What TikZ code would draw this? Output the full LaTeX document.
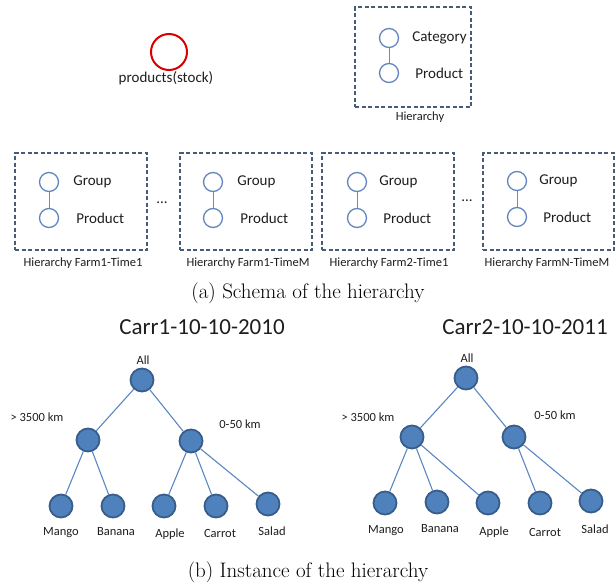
\documentclass[tikz,border=0pt]{standalone}
\usepackage{fontspec}
\usetikzlibrary{positioning}
\newfontfamily\calfont{Carlito}
\definecolor{nodefill}{RGB}{79,129,189}
\definecolor{nodeline}{RGB}{56,93,138}
\definecolor{edgeblue}{RGB}{90,135,195}
\definecolor{ringblue}{RGB}{95,135,190}
\definecolor{stemgray}{RGB}{120,140,170}
\definecolor{boxgray}{RGB}{70,92,120}
\definecolor{txt}{RGB}{30,30,30}
\tikzset{
  small/.style={font=\calfont\fontsize{12.5}{15}\selectfont, text=txt, inner sep=0pt},
  mid/.style={font=\calfont\fontsize{15}{18}\selectfont, text=txt, inner sep=0pt},
  title/.style={font=\calfont\fontsize{23}{27}\selectfont, text=txt, inner sep=0pt},
  capt/.style={font=\fontsize{21}{25}\selectfont, text=black, inner sep=0pt},
  leaf/.style={circle, draw=nodeline, fill=nodefill, line width=1.8pt, minimum size=23pt, inner sep=0pt},
  ring/.style={circle, draw=ringblue, fill=white, line width=1.3pt, minimum size=19pt, inner sep=0pt},
  hbox/.style={draw=boxgray, line width=1.3pt, dash pattern=on 4pt off 2.5pt, minimum height=97pt, inner sep=0pt},
  edge/.style={draw=edgeblue, line width=1.1pt},
  stem/.style={draw=stemgray, line width=1pt}
}
\begin{document}
\begin{tikzpicture}[x=1pt, y=-1pt]
    \useasboundingbox (0,0) rectangle (616,584);

    % 库存产品
    \node[circle, draw=red!85!black, line width=2pt, minimum size=36pt] (stock) at (169,52) {};
    \node[mid] (stocklbl) at (166,78) {products(stock)};

    % 通用层次
    \node[hbox, minimum width=116pt, minimum height=100pt] (hier) at (413,57) {};
    \node[ring] (hc) at (389,38) {};
    \node[ring] (hp) at (389,73) {};
    \draw[stem] (hc) -- (hp);
    \node[mid, anchor=west, right=13pt of hc] (hclbl) {Category};
    \node[mid, anchor=west, right=16pt of hp] (hplbl) {Product};
    \node[small] (hierlbl) at (420,117) {Hierarchy};

    % 各农场层次
    \node[hbox, minimum width=132pt] (box1) at (81,201.5) {};
    \node[hbox, minimum width=132pt] (box2) at (246,201.5) {};
    \node[hbox, minimum width=132pt] (box3) at (388,201.5) {};
    \node[hbox, minimum width=131pt] (box4) at (548.5,201.5) {};

    \node[ring] (g1) at (49,182) {};
    \node[ring] (p1) at (49,218) {};
    \node[ring] (g2) at (213,182) {};
    \node[ring] (p2) at (213,218) {};
    \node[ring] (g3) at (357,182) {};
    \node[ring] (p3) at (357,218) {};
    \node[ring] (g4) at (517,181) {};
    \node[ring] (p4) at (517,217) {};
    \draw[stem] (g1) -- (p1);
    \draw[stem] (g2) -- (p2);
    \draw[stem] (g3) -- (p3);
    \draw[stem] (g4) -- (p4);

    \node[mid, right=14pt of g1] (g1lbl) {Group};
    \node[mid, right=17pt of p1] (p1lbl) {Product};
    \node[mid, right=14pt of g2] (g2lbl) {Group};
    \node[mid, right=17pt of p2] (p2lbl) {Product};
    \node[mid, right=12pt of g3] (g3lbl) {Group};
    \node[mid, right=16pt of p3] (p3lbl) {Product};
    \node[mid, right=12pt of g4] (g4lbl) {Group};
    \node[mid, right=16pt of p4] (p4lbl) {Product};

    \node[mid] (dots1) at (162,203) {...};
    \node[mid] (dots2) at (467,201) {...};

    \node[small] (box1lbl) at (83,263) {Hierarchy Farm1-Time1};
    \node[small] (box2lbl) at (248,263) {Hierarchy Farm1-TimeM};
    \node[small] (box3lbl) at (389,263) {Hierarchy Farm2-Time1};
    \node[small] (box4lbl) at (547,263) {Hierarchy FarmN-TimeM};

    \node[capt] (capa) at (308,293) {(a) Schema of the hierarchy};

    % 第一棵实例树
    \node[title] (carr1) at (202,327) {Carr1-10-10-2010};
    \node[leaf] (t1r) at (142,380) {};
    \node[leaf] (t1a) at (88,440) {};
    \node[leaf] (t1b) at (191,441) {};
    \node[leaf] (t1m) at (61,506) {};
    \node[leaf] (t1n) at (113,506) {};
    \node[leaf] (t1p) at (164,506) {};
    \node[leaf] (t1c) at (216,506) {};
    \node[leaf] (t1s) at (268,504) {};

    \draw[edge] (t1r) -- (t1a);
    \draw[edge] (t1r) -- (t1b);
    \draw[edge] (t1a) -- (t1m);
    \draw[edge] (t1a) -- (t1n);
    \draw[edge] (t1b) -- (t1p);
    \draw[edge] (t1b) -- (t1c);
    \draw[edge] (t1b) -- (t1s);

    \node[small] (t1rlbl) at (143,360) {All};
    \node[small] (t1albl) at (37,417) {> 3500 km};
    \node[small] (t1blbl) at (240,424) {0-50 km};
    \node[small] (t1mlbl) at (61,533) {Mango};
    \node[small] (t1nlbl) at (116,532) {Banana};
    \node[small] (t1plbl) at (170,534) {Apple};
    \node[small] (t1clbl) at (220,533) {Carrot};
    \node[small] (t1slbl) at (272,531) {Salad};

    % 第二棵实例树
    \node[title] (carr2) at (525,327) {Carr2-10-10-2011};
    \node[leaf] (t2r) at (466,378) {};
    \node[leaf] (t2a) at (412,437) {};
    \node[leaf] (t2b) at (514,437) {};
    \node[leaf] (t2m) at (385,503) {};
    \node[leaf] (t2n) at (437,502) {};
    \node[leaf] (t2p) at (488,503) {};
    \node[leaf] (t2c) at (540,503) {};
    \node[leaf] (t2s) at (591,501) {};

    \draw[edge] (t2r) -- (t2a);
    \draw[edge] (t2r) -- (t2b);
    \draw[edge] (t2a) -- (t2m);
    \draw[edge] (t2a) -- (t2n);
    \draw[edge] (t2a) -- (t2p);
    \draw[edge] (t2b) -- (t2c);
    \draw[edge] (t2b) -- (t2s);

    \node[small] (t2rlbl) at (467,358) {All};
    \node[small] (t2albl) at (368,417) {> 3500 km};
    \node[small] (t2blbl) at (555,415) {0-50 km};
    \node[small] (t2mlbl) at (386,531) {Mango};
    \node[small] (t2nlbl) at (440,529) {Banana};
    \node[small] (t2plbl) at (494,532) {Apple};
    \node[small] (t2clbl) at (545,532) {Carrot};
    \node[small] (t2slbl) at (595,529) {Salad};

    \node[capt] (capb) at (308,572) {(b) Instance of the hierarchy};
\end{tikzpicture}
\end{document}
